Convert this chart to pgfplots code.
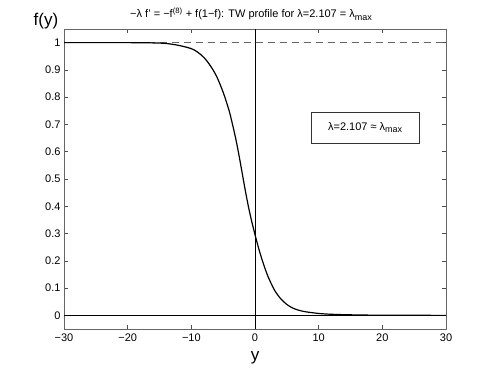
\documentclass[border=0pt]{standalone}
\usepackage{fontspec}
\setmainfont{Liberation Sans}
\usepackage{pgfplots}
\pgfplotsset{compat=1.18}
\usetikzlibrary{calc}

% travelling-wave profile
\pgfplotstableread{
y f
-30 1.000
-20 1.000
-16 0.999
-14 0.997
-12 0.990
-10 0.978
-9 0.965
-8 0.945
-7 0.915
-6 0.875
-5 0.818
-4.5 0.783
-4 0.745
-3.5 0.697
-3 0.645
-2.5 0.585
-2 0.520
-1.5 0.455
-1 0.395
-0.5 0.343
0 0.296
0.5 0.252
1 0.212
1.5 0.177
2 0.145
3 0.095
4 0.062
5 0.040
6 0.026
7 0.018
8 0.013
10 0.007
12 0.004
15 0.002
20 0.0005
30 0.000
}\profile

\begin{document}
\begin{tikzpicture}
\begin{axis}[
  name=ax,
  width=382pt, height=300pt, scale only axis,
  xmin=-30, xmax=30, ymin=-0.05, ymax=1.05,
  xtick={-30,-20,...,30},
  xticklabels={−30,−20,−10,0,10,20,30},
  ytick={0,0.1,0.2,0.3,0.4,0.5,0.6,0.7,0.8,0.9,1},
  yticklabels={0,0.1,0.2,0.3,0.4,0.5,0.6,0.7,0.8,0.9,1},
  tick align=inside, major tick length=4pt,
  tick style={black!70, line width=0.5pt},
  axis line style={black!60, line width=0.6pt},
  ticklabel style={font=\fontsize{11}{13}\selectfont},
  xticklabel style={yshift=-1pt},
]
\addplot[black!60, line width=0.6pt, dash pattern=on 7pt off 5pt] coordinates {(-30,1) (30,1)};
\addplot[black, line width=0.5pt] coordinates {(-30,0) (30,0)};
\addplot[black, line width=0.5pt] coordinates {(0,-0.05) (0,1.05)};
\addplot[black, line width=1.2pt, smooth] table[x=y, y=f] {\profile};
\node[draw=black!80, line width=0.6pt, fill=white, minimum width=108pt, minimum height=31pt,
  font=\fontsize{11}{13}\selectfont] at (axis cs:17.3,0.688)
  {λ=2.107 ≈ λ\raisebox{-0.45ex}{\fontsize{9}{10}\selectfont max}};
\end{axis}
\node[font=\fontsize{11}{13}\selectfont] at ($(ax.north)+(-4pt,15pt)$)
  {−λ f' = −f\textsuperscript{(8)} + f(1−f): TW profile for λ=2.107 = λ\raisebox{-0.45ex}{\fontsize{9}{10}\selectfont max}};
\node[font=\fontsize{17}{19}\selectfont] at ($(ax.north west)+(-18pt,8pt)$) {f(y)};
\node[font=\fontsize{17}{19}\selectfont] at ($(ax.south)+(0pt,-29pt)$) {y};
\pgfresetboundingbox
\path[use as bounding box] ($(ax.south west)+(-64pt,-41pt)$) rectangle ($(ax.north east)+(47pt,29pt)$);
\end{tikzpicture}
\end{document}
